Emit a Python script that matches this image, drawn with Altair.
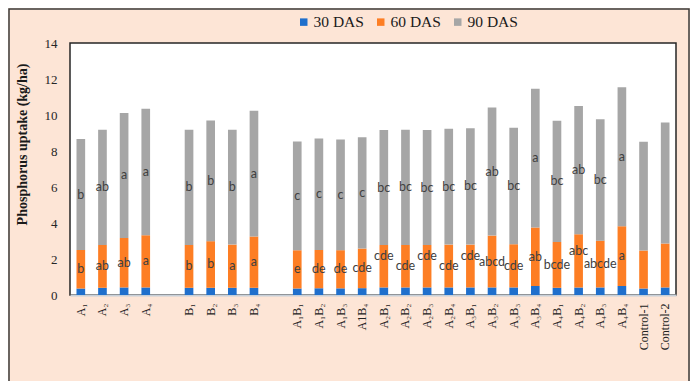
import altair as alt
import pandas as pd

categories = ["A₁", "A₂", "A₃", "A₄", "B₁", "B₂", "B₃", "B₄",
              "A₁B₁", "A₁B₂", "A₁B₃", "A1B₄", "A₂B₁", "A₂B₂", "A₂B₃", "A₂B₄",
              "A₃B₁", "A₃B₂", "A₃B₃", "A₃B₄", "A₄B₁", "A₄B₂", "A₄B₃", "A₄B₄",
              "Control-1", "Control-2"]
gaps = [" ", "  "]
axis_order = categories[:4] + [gaps[0]] + categories[4:8] + [gaps[1]] + categories[8:]

series = ["30 DAS", "60 DAS", "90 DAS"]
v30 = [0.36, 0.40, 0.42, 0.42, 0.40, 0.40, 0.40, 0.40,
       0.36, 0.37, 0.37, 0.38, 0.42, 0.42, 0.42, 0.42,
       0.42, 0.42, 0.42, 0.50, 0.40, 0.42, 0.42, 0.50,
       0.36, 0.42]
v60 = [2.14, 2.38, 2.75, 2.90, 2.38, 2.59, 2.40, 2.85,
       2.13, 2.13, 2.12, 2.20, 2.36, 2.36, 2.36, 2.38,
       2.38, 2.88, 2.40, 3.25, 2.55, 2.96, 2.60, 3.32,
       2.11, 2.44]
v90 = [6.16, 6.40, 6.94, 7.03, 6.40, 6.71, 6.38, 6.99,
       6.04, 6.20, 6.15, 6.19, 6.38, 6.40, 6.38, 6.44,
       6.46, 7.11, 6.47, 7.71, 6.73, 7.12, 6.74, 7.72,
       6.04, 6.73]
letters60 = ["b", "ab", "ab", "a", "b", "b", "a", "a",
             "e", "de", "de", "cde", "cde", "cde", "cde", "cde",
             "cde", "abcd", "cde", "ab", "bcde", "abc", "abcde", "a",
             "", ""]
letters90 = ["b", "ab", "a", "a", "b", "b", "b", "a",
             "c", "c", "c", "c", "bc", "bc", "bc", "bc",
             "bc", "ab", "bc", "a", "bc", "ab", "bc", "a",
             "", ""]
y_ticks = [0, 2, 4, 6, 8, 10, 12, 14]
# 60 DAS letter groups that sit higher in the segment (to avoid collisions)
raised60 = ["A₂B₁", "A₂B₃", "A₃B₁", "A₄B₂"]

colors = ["#1f6fcc", "#fd7e24", "#a6a6a6"]

rows = []
for i, c in enumerate(categories):
    for s, v in zip(series, (v30[i], v60[i], v90[i])):
        rows.append({"cat": c, "series": s, "value": v})
bars_df = pd.DataFrame(rows)

lab_rows = []
for i, c in enumerate(categories):
    top30 = v30[i]
    top60 = v30[i] + v60[i]
    if letters60[i]:
        lab_rows.append({"cat": c, "mid": top30 + v60[i] / 2, "txt": letters60[i],
                         "raised": c in raised60})
    if letters90[i]:
        lab_rows.append({"cat": c, "mid": top60 + v90[i] / 2, "txt": letters90[i],
                         "raised": False})
lab_df = pd.DataFrame(lab_rows)

xscale = alt.Scale(domain=axis_order, paddingInner=0.6, paddingOuter=0.3)
yscale = alt.Scale(domain=[0, 14])
serif = "Times New Roman, Liberation Serif, serif"

x_axis = alt.Axis(title=None, labelAngle=270, ticks=False, domain=True,
                  domainColor="#c8d0d8", domainWidth=2,
                  labelFont=serif, labelFontSize=12,
                  labelColor="#222222", labelPadding=8)
y_axis = alt.Axis(title="Phosphorus uptake (kg/ha)", values=y_ticks,
                  grid=False, ticks=False, domain=False,
                  labelOverlap=False, labelFlush=False,
                  labelFont=serif, labelFontSize=13,
                  labelColor="#262626", labelPadding=13,
                  titleFont=serif, titleFontSize=14,
                  titleFontWeight="bold", titleColor="#1a1a1a",
                  titleAngle=270, titleAlign="center", titleBaseline="middle",
                  titleX=-48, titleY=101)

bars = alt.Chart(bars_df).mark_bar().encode(
    x=alt.X("cat:N", scale=xscale, sort=axis_order, axis=x_axis),
    y=alt.Y("value:Q", scale=yscale, stack="zero", axis=y_axis),
    color=alt.Color("series:N", scale=alt.Scale(domain=series, range=colors),
                    legend=alt.Legend(title=None, orient="none", legendX=226, legendY=-29,
                                      direction="horizontal", symbolType="square",
                                      symbolSize=56, symbolStrokeWidth=0,
                                      labelFont=serif, labelFontSize=15.5,
                                      labelFontWeight="normal",
                                      labelColor="#1a1a1a", labelOffset=2,
                                      columnPadding=9, padding=0)),
    order=alt.Order("series:N"),
)

text_style = dict(font="Lato", fontSize=12.5, color="#404040")

labels = alt.Chart(lab_df).transform_filter("!datum.raised").mark_text(**text_style).encode(
    x=alt.X("cat:N", scale=xscale, sort=axis_order, axis=x_axis),
    y=alt.Y("mid:Q", scale=yscale, axis=y_axis),
    text="txt:N",
)
labels_up = alt.Chart(lab_df).transform_filter("datum.raised").mark_text(dy=-10, **text_style).encode(
    x=alt.X("cat:N", scale=xscale, sort=axis_order, axis=x_axis),
    y=alt.Y("mid:Q", scale=yscale, axis=y_axis),
    text="txt:N",
)

frame = alt.Chart(alt.Data(values=[{}])).mark_rect(
    filled=False, stroke="#3a3a3a", strokeWidth=1.5
).encode(
    x=alt.value(-61), x2=alt.value(619), y=alt.value(-34), y2=alt.value(420)
)

chart = alt.layer(bars, labels, labels_up, frame).properties(
    width=606, height=252,
    autosize=alt.AutoSizeParams(type="none"),
    padding={"left": 62, "top": 35, "right": 14, "bottom": 86},
    background="#fde5d6",
).configure(
    font=serif
).configure_view(
    fill="white", stroke="#262626", strokeWidth=1.5
).configure_legend(
    labelFont=serif, labelFontSize=15.5, labelFontWeight="normal"
)

chart.save("out.html", embed_options={"renderer": "svg", "actions": False})
